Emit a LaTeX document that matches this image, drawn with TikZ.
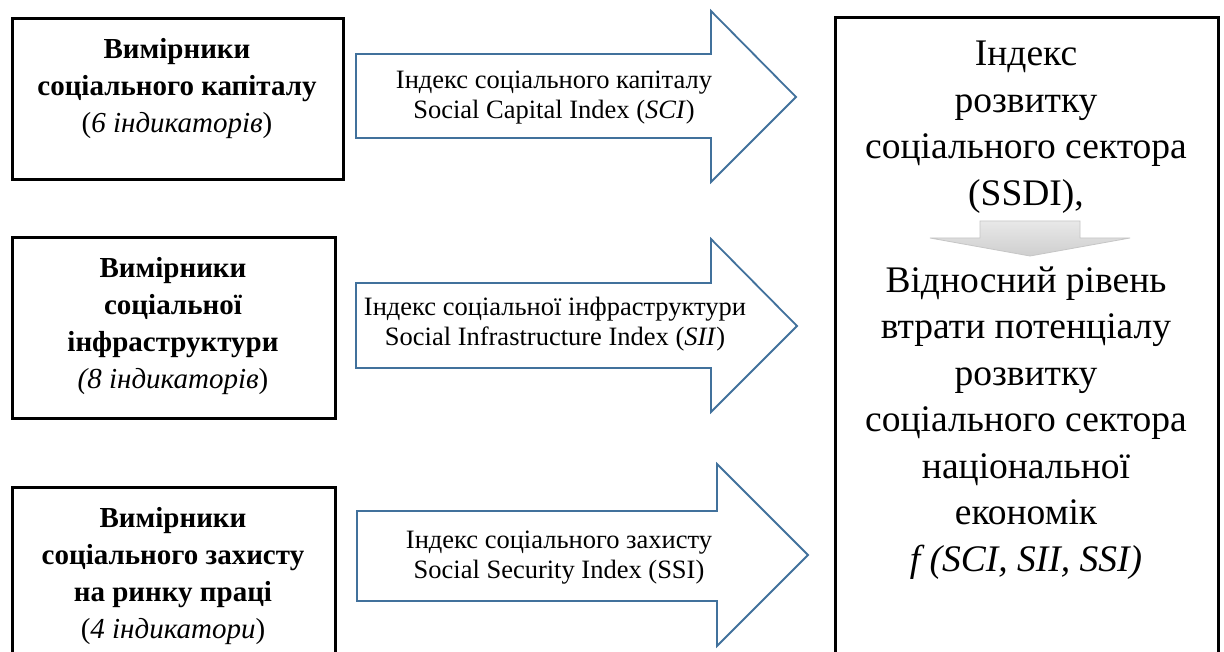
\documentclass[tikz,border=0pt]{standalone}
\usepackage{fontspec}
\setmainfont{Liberation Serif}
\begin{document}
\begin{tikzpicture}[x=1pt,y=-1pt,
  srcbox/.style={draw=black, line width=3pt, fill=white},
  boxtext/.style={align=center, font=\fontsize{29}{37}\selectfont\bfseries, inner sep=0pt},
  idxarrow/.style={draw={rgb,255:red,65;green,113;blue,156}, line width=1.8pt, fill=white, line join=miter},
  arrowtext/.style={align=center, font=\fontsize{26.5}{30}\selectfont, inner sep=0pt},
  resbox/.style={draw=black, line width=3pt, fill=white},
  restext/.style={align=center, font=\fontsize{37.5}{46.5}\selectfont, inner sep=0pt},
  grayarrow/.style={draw=gray!45, line width=0.8pt, top color=gray!18, bottom color=gray!38}]
\useasboundingbox (0,0) rectangle (1224,652);
\clip (0,0) rectangle (1224,652);

% source boxes with the measured indicators
\draw[srcbox] (12,19) rectangle (343,180);
\draw[srcbox] (12,238) rectangle (335,418);
\draw[srcbox] (12,487) rectangle (335,700);
\node[boxtext] (capital) at (177,89) {Вимірники\\соціального капіталу\\{\mdseries(\textit{6 індикаторів})}};
\node[boxtext] (infra) at (173,326) {Вимірники\\соціальної\\інфраструктури\\{\mdseries\textit{(8 індикаторів})}};
\node[boxtext] (security) at (173,576) {Вимірники\\соціального захисту\\на ринку праці\\{\mdseries(\textit{4 індикатори})}};

% block arrows carrying the partial indices
\draw[idxarrow] (356,54) -- (711,54) -- (711,11) -- (796,97) -- (711,182) -- (711,138) -- (356,138) -- cycle;
\draw[idxarrow] (356,283) -- (711,283) -- (711,239) -- (797,326) -- (711,412) -- (711,368) -- (356,368) -- cycle;
\draw[idxarrow] (357,511) -- (717,511) -- (717,464) -- (808,555) -- (717,646) -- (717,601) -- (357,601) -- cycle;
\node[arrowtext] (sci) at (554,98) {Індекс соціального капіталу\\Social Capital Index (\textit{SCI})};
\node[arrowtext] (sii) at (555,324) {Індекс соціальної інфраструктури\\Social Infrastructure Index (\textit{SII})};
\node[arrowtext] (ssi) at (559,558) {Індекс соціального захисту\\Social Security Index (SSI)};

% resulting composite index
\draw[resbox] (835,18) rectangle (1218,700);
\node[restext] (ssdi) at (1026,127) {Індекс\\розвитку\\соціального сектора\\(SSDI),};
\node[restext] (loss) at (1026,423) {Відносний рівень\\втрати потенціалу\\розвитку\\соціального сектора\\національної\\економік\\\textit{f (SCI, SII, SSI)}};
\draw[grayarrow] (980,221) -- (1080,221) -- (1080,238) -- (1130,238) -- (1030,256) -- (930,238) -- (980,238) -- cycle;
\end{tikzpicture}
\end{document}
